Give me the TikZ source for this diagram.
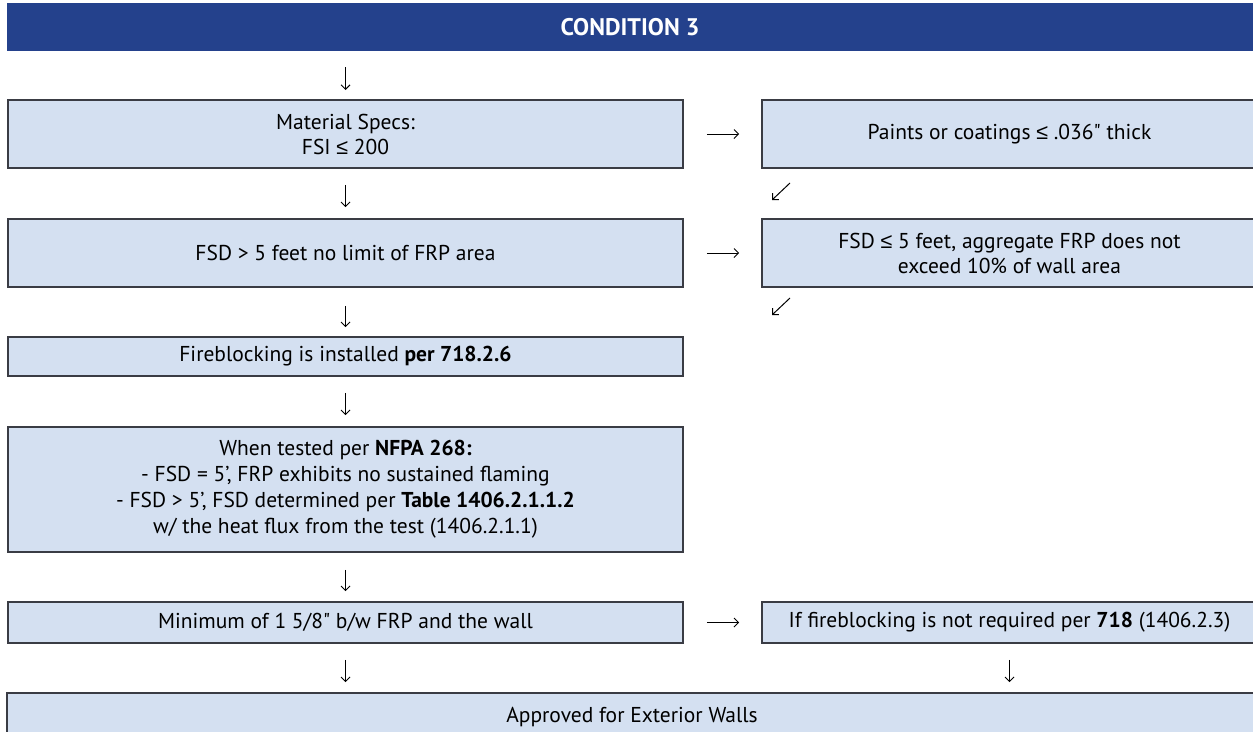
\documentclass[tikz,border=0pt]{standalone}
\usepackage{fontspec}
\newfontfamily\pts{PT Sans}
\newfontfamily\symf{Liberation Sans}
\usetikzlibrary{arrows.meta}
\definecolor{hdrblue}{RGB}{36,65,140}
\definecolor{boxfill}{RGB}{212,224,241}
\definecolor{boxline}{RGB}{58,60,68}
\newcommand{\lesym}{{\symf ≤}}
\begin{document}
\begin{tikzpicture}[x=1pt,y=-1pt,
  box/.style={draw=boxline, line width=1.6pt, fill=boxfill, align=center, inner sep=0pt,
    font=\pts\fontsize{21.5}{25}\selectfont},
  arr/.style={line width=1pt, -{Straight Barb[length=4.5pt,width=9pt]}},
]
\useasboundingbox (0,0) rectangle (1253,731);
% header
\node[fill=hdrblue, minimum width=1246pt, minimum height=48pt, inner sep=0pt, text=white,
  font=\pts\bfseries\fontsize{24}{26}\selectfont] (hdr) at (630,27) {CONDITION 3};
% left column
\node[box, minimum width=675pt, minimum height=68pt] (ms) at (345.5,134) {Material Specs:\\FSI \lesym{} 200};
\node[box, minimum width=675pt, minimum height=68pt] (fsd) at (345.5,253) {FSD > 5 feet no limit of FRP area};
\node[box, minimum width=675pt, minimum height=39pt] (fb) at (345.5,356.5) {Fireblocking is installed \textbf{per 718.2.6}};
\node[box, minimum width=675pt, minimum height=125pt, font=\pts\fontsize{21.5}{26}\selectfont] (nf) at (345.5,489.5)
  {When tested per \textbf{NFPA 268:}\\- FSD = 5’, FRP exhibits no sustained flaming\\- FSD > 5’, FSD determined per \textbf{Table 1406.2.1.1.2}\\w/ the heat flux from the test (1406.2.1.1)};
\node[box, minimum width=675pt, minimum height=41pt] (mn) at (345.5,622.5) {Minimum of 1 5/8" b/w FRP and the wall};
% right column
\node[box, minimum width=495pt, minimum height=68pt] (paint) at (1009.5,134) {Paints or coatings \lesym{} .036" thick};
\node[box, minimum width=495pt, minimum height=68pt] (fsd5) at (1009.5,253) {FSD \lesym{} 5 feet, aggregate FRP does not\\exceed 10\% of wall area};
\node[box, minimum width=495pt, minimum height=41pt] (nr) at (1009.5,622.5) {If fireblocking is not required per \textbf{718} (1406.2.3)};
% final
\node[box, minimum width=1250pt, minimum height=48pt] (fin) at (632,717) {Approved for Exterior Walls};
% connectors
\draw[arr] (ms.north |- hdr.south) ++(0,16) -- (345.5,90);
\draw[arr, shorten <=16pt, shorten >=11pt] (ms) -- (fsd);
\draw[arr, shorten <=18pt, shorten >=9pt] (fsd) -- (fb);
\draw[arr, shorten <=16pt, shorten >=11pt] (fb) -- (nf);
\draw[arr, shorten <=17pt, shorten >=10pt] (nf) -- (mn);
\draw[arr, shorten <=16pt, shorten >=10pt] (mn.south) -- (mn.south |- fin.north);
\draw[arr, shorten <=16pt, shorten >=10pt] (nr.south) -- (nr.south |- fin.north);
\draw[arr, shorten <=23pt, shorten >=22pt] (ms) -- (paint);
\draw[arr, shorten <=23pt, shorten >=22pt] (fsd) -- (fsd5);
\draw[arr, shorten <=23pt, shorten >=22pt] (mn) -- (nr);
\coordinate (d1s) at (790,183);
\coordinate (d1e) at (772,200);
\coordinate (d2s) at (790,298);
\coordinate (d2e) at (772,315);
\draw[arr] (d1s) -- (d1e);
\draw[arr] (d2s) -- (d2e);
\end{tikzpicture}
\end{document}
